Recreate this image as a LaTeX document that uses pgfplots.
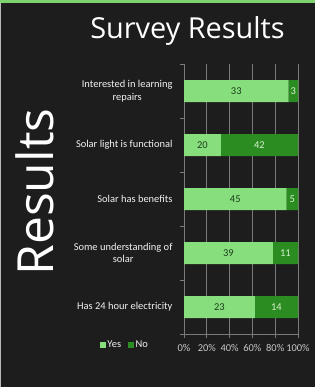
\documentclass[border=0pt]{standalone}
\usepackage{pgfplots}
\pgfplotsset{compat=1.18}
\usepackage{pgfplotstable}
\usepackage{fontspec}
\setmainfont{Carlito}
\newfontfamily\titlefont{Open Sans}
\definecolor{bg}{HTML}{1D1D1D}
\definecolor{yesc}{HTML}{86DF7C}
\definecolor{noc}{HTML}{2B8C22}
\definecolor{topg}{HTML}{7ED36F}
\definecolor{gridc}{HTML}{7A7A7A}
\definecolor{txt}{HTML}{F2F2F2}
\definecolor{tickc}{HTML}{C8C8C8}
\definecolor{darkt}{HTML}{1E3A1C}
\definecolor{lightt}{HTML}{D8F2D0}

% counts (shown) and their share of each row (drawn)
\pgfplotstableread{
idx yes no yespct nopct
1 33 3 91.67 8.33
2 20 42 32.26 67.74
3 45 5 90.00 10.00
4 39 11 78.00 22.00
5 23 14 62.16 37.84
}\data

\begin{document}
\begin{tikzpicture}[x=1bp,y=1bp]
\path[use as bounding box, fill=bg] (0,0) rectangle (315,387);
\fill[topg] (0,383.5) rectangle (315,387);
\fill[gray!55] (0,0) rectangle (1.5,383.5);
\node[anchor=base, inner sep=0, font=\titlefont\fontsize{29}{34}\selectfont, text=white] at (187.5,349) {Survey Results};
\node[anchor=base, rotate=90, inner sep=0, font=\titlefont\fontsize{50}{58}\selectfont, text=white] at (53,195) {Results};
\begin{axis}[
  at={(184bp,53bp)}, anchor=south west,
  scale only axis, width=114bp, height=270bp,
  xbar stacked, bar width=22bp,
  xmin=0, xmax=100, ymin=0.5, ymax=5.5, y dir=reverse,
  axis lines=left, axis line style={-, draw=gridc, line width=0.8bp},
  tick align=outside, major tick length=3.5bp,
  xtick={0,20,40,60,80,100},
  xticklabels={0\%,20\%,40\%,60\%,80\%,100\%},
  xticklabel style={text=tickc, font=\fontsize{10.5}{12}\selectfont, inner sep=1bp, yshift=-6bp},
  xtick style={draw=gridc, line width=0.8bp},
  xmajorgrids=true,
  major grid style={draw=gridc, line width=0.8bp},
  ytick={0.5,1.5,...,5.5},
  yticklabels={},
  ytick style={draw=gridc, line width=0.8bp},
  extra y ticks={1,2,3,4,5},
  extra y tick labels={{Interested in learning\\repairs},{Solar light is functional},{Solar has benefits},{Some understanding of\\solar},{Has 24 hour electricity}},
  extra y tick style={major tick length=0pt, yticklabel style={align=center, text=txt, font=\fontsize{10.5}{12.5}\selectfont, xshift=-8bp}},
  nodes near coords,
  point meta=explicit symbolic,
  nodes near coords style={font=\fontsize{10.5}{12}\selectfont},
  legend style={at={(-0.518,-0.041)}, anchor=center, draw=none, fill=none,
    text=txt, font=\fontsize{10.5}{12}\selectfont, legend columns=2,
    /tikz/every even column/.append style={column sep=5bp}},
  legend image code/.code={\fill[#1] (0bp,-2.8bp) rectangle (5.5bp,2.8bp);},
]
\addplot[fill=yesc, draw=none, every node near coord/.append style={text=darkt}]
  table[x=yespct, y=idx, meta=yes] {\data};
\addplot[fill=noc, draw=none, every node near coord/.append style={text=lightt}]
  table[x=nopct, y=idx, meta=no] {\data};
\legend{Yes,No}
\end{axis}
\end{tikzpicture}
\end{document}
